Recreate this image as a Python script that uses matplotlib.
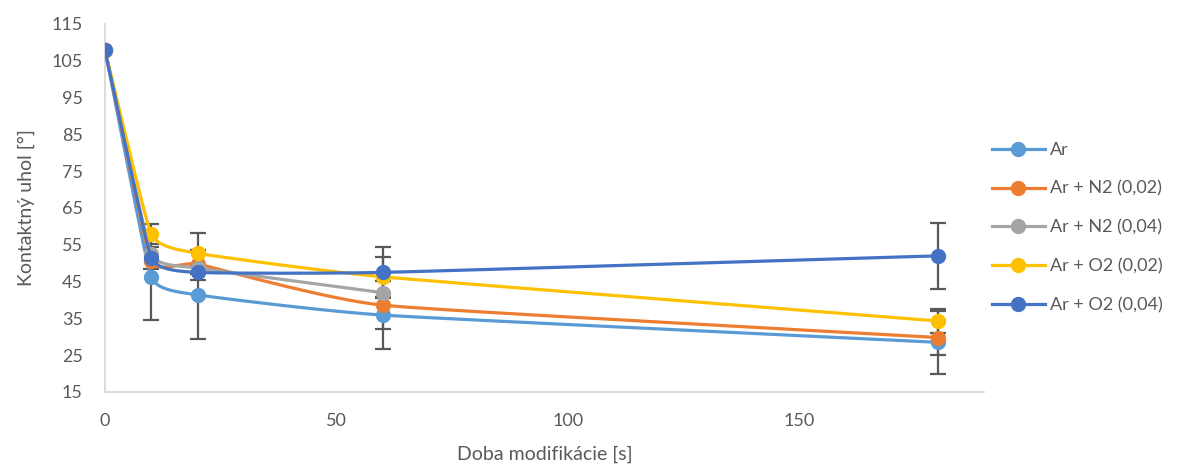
import numpy as np
import matplotlib
matplotlib.use("Agg")
import matplotlib.pyplot as plt
from matplotlib.lines import Line2D

# ---- data ----
x_all = [0, 10, 20, 60, 180]
x_n204 = [0, 10, 20, 60]
ar = [107.8, 46.2, 41.4, 35.9, 28.5]
ar_err = [0, 11.6, 12.1, 9.2, 8.6]
n2_002 = [107.8, 50.5, 49.8, 38.6, 29.8]
n2_002_err = [0, 0, 0, 6.5, 4.7]
n2_004 = [107.8, 52.5, 48.7, 42.0]
n2_004_err = [0, 0, 0, 0]
o2_002 = [107.8, 57.9, 52.7, 46.3, 34.3]
o2_002_err = [0, 2.7, 5.6, 5.5, 3.2]
o2_004 = [107.8, 51.5, 47.5, 47.5, 52.0]
o2_004_err = [0, 3.0, 2.1, 7.0, 8.9]
labels = ["Ar", "Ar + N2 (0,02)", "Ar + N2 (0,04)", "Ar + O2 (0,02)", "Ar + O2 (0,04)"]
xticks = [0, 50, 100, 150]
yticks = list(range(15, 116, 10))

series = [
    (x_all, ar, ar_err),
    (x_all, n2_002, n2_002_err),
    (x_n204, n2_004, n2_004_err),
    (x_all, o2_002, o2_002_err),
    (x_all, o2_004, o2_004_err),
]
colors = ["#5B9BD5", "#ED7D31", "#A5A5A5", "#FFC000", "#4472C4"]

plt.rcParams['font.family'] = ['Lato', 'DejaVu Sans']
txt = "#595959"

fig = plt.figure(figsize=(11.84, 4.75), dpi=100)
ax = fig.add_axes([105/1184, 1-392/475, (984-105)/1184, (392-24)/475])
ax.set_xlim(0, 190)
ax.set_ylim(15, 115)


def smooth(ax, xs, ys, n=60, t=0.3):
    pts = ax.transData.transform(np.column_stack([xs, ys]))
    P = np.vstack([pts[0], pts, pts[-1]])
    out = []

    def unit(v):
        L = np.hypot(*v)
        return v / L if L > 0 else v

    def dist(a, b):
        return np.hypot(*(b - a))

    for i in range(1, len(P) - 2):
        p0, p1, p2, p3 = P[i-1], P[i], P[i+1], P[i+2]
        L = dist(p1, p2)
        L0 = dist(p0, p1) if dist(p0, p1) > 0 else L
        L3 = dist(p2, p3) if dist(p2, p3) > 0 else L
        c1 = p1 + unit(p2 - p0) * min(L, L0) * t
        c2 = p2 - unit(p3 - p1) * min(L, L3) * t
        s = np.linspace(0, 1, n)[:, None]
        seg = ((1-s)**3)*p1 + 3*((1-s)**2)*s*c1 + 3*(1-s)*(s**2)*c2 + (s**3)*p2
        out.append(seg if i == 1 else seg[1:])
    curve = np.vstack(out)
    d = ax.transData.inverted().transform(curve)
    return d[:, 0], d[:, 1]


handles = []
for k, ((xs, ys, es), c, lab) in enumerate(zip(series, colors, labels)):
    xs_e = [x for x, e in zip(xs, es) if e > 0]
    ys_e = [y for y, e in zip(ys, es) if e > 0]
    ee = [e for e in es if e > 0]
    ax.errorbar(xs_e, ys_e, yerr=ee, fmt='none', ecolor='#595959',
                elinewidth=1.6, capsize=6, capthick=1.6, zorder=1)
    sx, sy = smooth(ax, xs, ys)
    ax.plot(sx, sy, color=c, lw=2.3, solid_capstyle='round', zorder=2 + k)
    ax.plot(xs, ys, 'o', color=c, ms=10, zorder=2 + k)
    handles.append(Line2D([], [], color=c, lw=2.3, marker='o', ms=10))

for s in ['top', 'right']:
    ax.spines[s].set_visible(False)
for s in ['left', 'bottom']:
    ax.spines[s].set_color('#D9D9D9')
    ax.spines[s].set_linewidth(1.3)
ax.set_xticks(xticks)
ax.set_yticks(yticks)
ax.tick_params(length=0, labelsize=13, colors=txt)
ax.tick_params(axis='y', pad=16)
ax.tick_params(axis='x', pad=15)
ax.set_xlabel("Doba modifikácie [s]", fontsize=14, color=txt, labelpad=12)
ax.set_ylabel("Kontaktný uhol [°]", fontsize=14, color=txt, labelpad=12)

leg = fig.legend(handles, labels, loc='upper left', bbox_to_anchor=(985/1184, 1-135/475),
                 frameon=False, fontsize=13, labelcolor=txt, handlelength=2.9,
                 handletextpad=0.3, labelspacing=1.25, borderaxespad=0)

fig.savefig("out.png", dpi=100)
